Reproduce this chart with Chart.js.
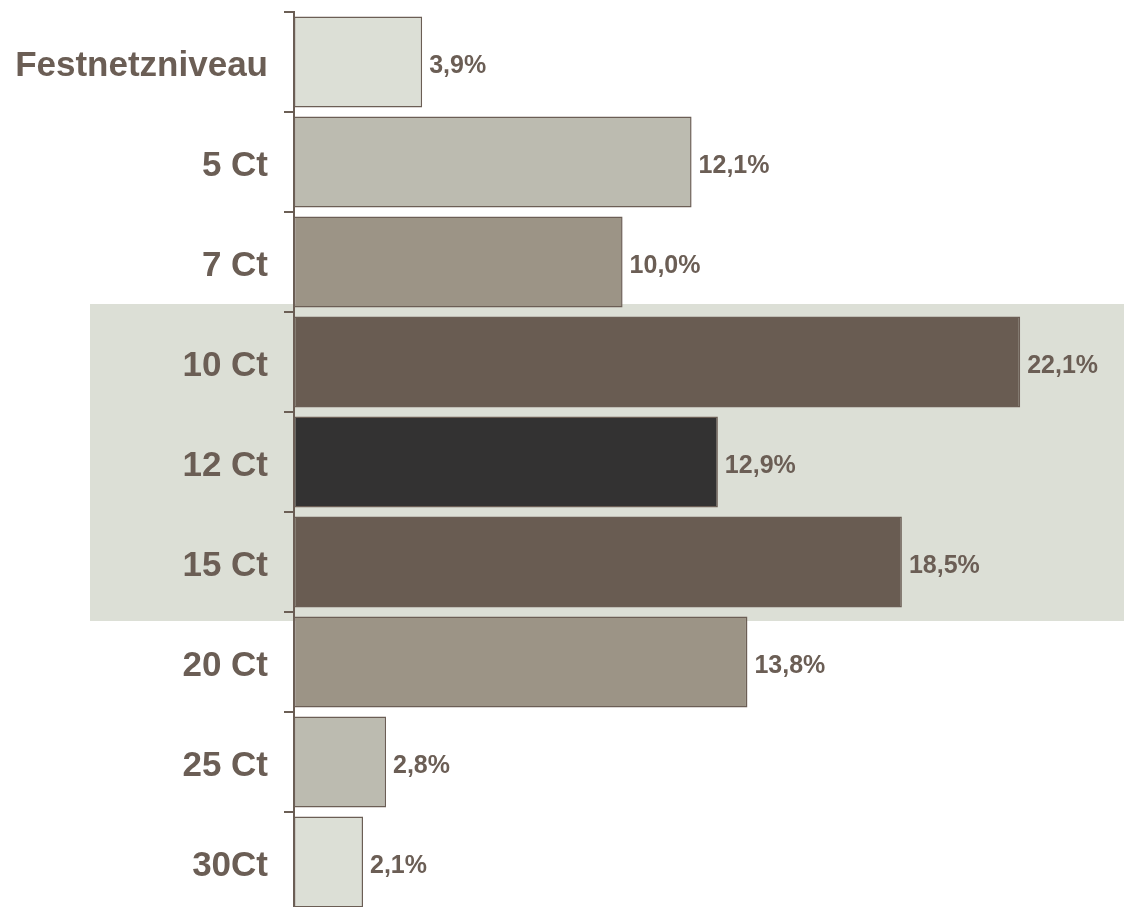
<!DOCTYPE html>
<html>
<head>
<meta charset="utf-8">
<script src="https://cdn.jsdelivr.net/npm/chart.js@4.4.1/dist/chart.umd.min.js"></script>
<style>
  html, body { margin: 0; padding: 0; background: #fff; overflow: hidden; }
  #wrap { width: 1124px; height: 912px; position: relative; }
</style>
</head>
<body>
<div id="wrap"><canvas id="tariffChart"></canvas></div>
<script>
// values
const categories = ["Festnetzniveau", "5 Ct", "7 Ct", "10 Ct", "12 Ct", "15 Ct", "20 Ct", "25 Ct", "30Ct"];
const shares = [3.9, 12.1, 10.0, 22.1, 12.9, 18.5, 13.8, 2.8, 2.1];
const barColors = ["#dcdfd6", "#bcbbb0", "#9c9486", "#695c52", "#333232", "#695c52", "#9c9486", "#bcbbb0", "#dcdfd6"];
const highlightFrom = 3; // "10 Ct"
const highlightTo = 5;   // "15 Ct"

const textColor = "#6b5e55";
const fontFamily = "'Liberation Sans', Arial, Helvetica, sans-serif";

const highlightBand = {
    id: "highlightBand",
    beforeDraw(chart) {
        const ctx = chart.ctx;
        const y = chart.scales.y;
        const top = y.getPixelForValue(highlightFrom) - 58;
        const bottom = y.getPixelForValue(highlightTo) + 59;
        ctx.save();
        ctx.fillStyle = "#dcdfd6";
        ctx.fillRect(90, top, chart.width - 90, bottom - top);
        ctx.restore();
    }
};

const valueLabels = {
    id: "valueLabels",
    afterDatasetsDraw(chart) {
        const ctx = chart.ctx;
        const meta = chart.getDatasetMeta(0);
        ctx.save();
        ctx.fillStyle = textColor;
        ctx.font = "bold 25px " + fontFamily;
        ctx.textAlign = "left";
        ctx.textBaseline = "middle";
        meta.data.forEach((bar, i) => {
            const txt = shares[i].toFixed(1).replace(".", ",") + "%";
            ctx.fillText(txt, bar.x + 7, bar.y + 4);
        });
        ctx.restore();
    }
};

const ctx = document.getElementById("tariffChart").getContext("2d");
new Chart(ctx, {
    type: "bar",
    data: {
        labels: categories,
        datasets: [{
            data: shares,
            backgroundColor: barColors,
            borderColor: textColor,
            borderWidth: 1.5,
            borderSkipped: false,
            categoryPercentage: 1,
            barPercentage: 0.91
        }]
    },
    options: {
        indexAxis: "y",
        responsive: true,
        maintainAspectRatio: false,
        animation: false,
        layout: { padding: { top: 12, right: 0, bottom: 0, left: 0 } },
        plugins: {
            legend: { display: false },
            title: { display: false },
            tooltip: { enabled: false }
        },
        scales: {
            x: {
                display: false,
                min: 0,
                max: 25.26
            },
            y: {
                afterFit(scale) {
                    scale.width = 294;
                    scale.paddingTop = 0;
                    scale.paddingBottom = 0;
                },
                border: { display: true, color: textColor, width: 2 },
                grid: {
                    offset: true,
                    drawOnChartArea: false,
                    drawTicks: true,
                    tickLength: 10,
                    color: textColor,
                    lineWidth: 2
                },
                ticks: {
                    color: textColor,
                    padding: 16,
                    labelOffset: 4,
                    font: { family: fontFamily, size: 35, weight: "bold" }
                }
            }
        }
    },
    plugins: [highlightBand, valueLabels]
});
</script>
</body>
</html>
